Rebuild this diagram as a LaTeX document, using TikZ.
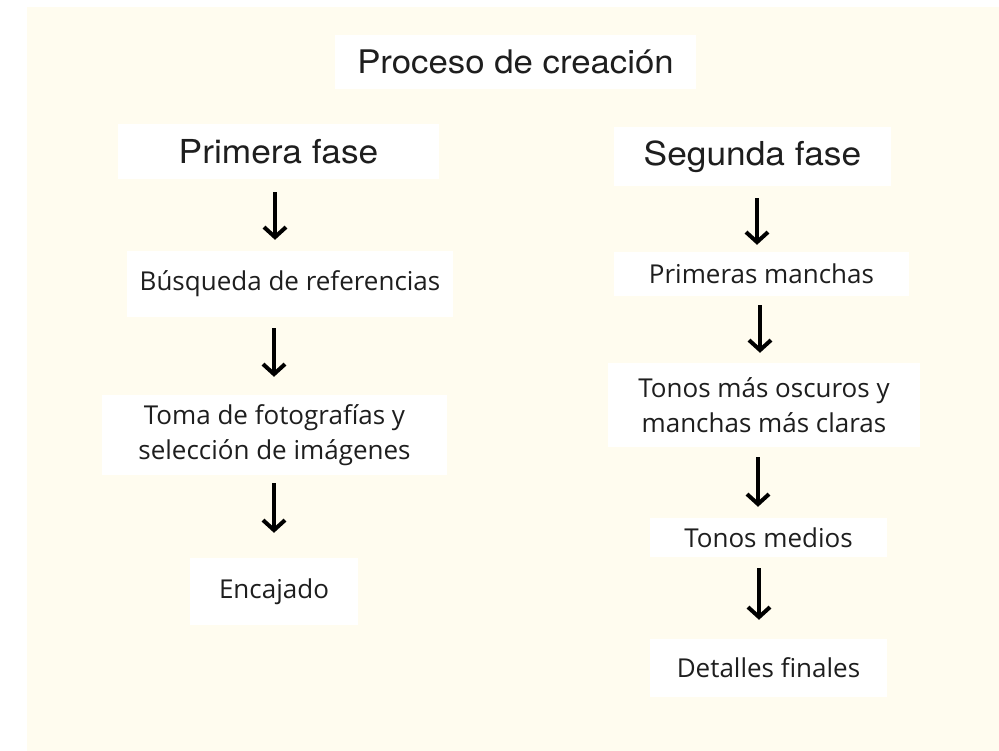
\documentclass[tikz,border=0pt]{standalone}
\usepackage{fontspec}
\setmainfont{Open Sans}
\newfontfamily\headfont[FakeStretch=1.07]{TeX Gyre Heros}
\usetikzlibrary{arrows.meta}
\definecolor{cream}{HTML}{FFFCEF}
\definecolor{ink}{HTML}{1E1E1E}
\begin{document}
\begin{tikzpicture}[x=1pt,y=-1pt,
  box/.style={fill=white, draw=none, inner sep=0pt, text=ink, align=center},
  headbox/.style={box, font=\headfont\fontsize{33}{38}\selectfont},
  bodybox/.style={box, font=\fontsize{26}{35}\selectfont},
  arr/.style={line width=4pt, draw=black, -{Straight Barb[length=10pt,width=22pt]}}
]
\useasboundingbox (0,0) rectangle (999,751);
\fill[white] (0,0) rectangle (999,751);
\fill[cream] (27,7) rectangle (999,751);

\node[headbox, minimum width=361pt, minimum height=54pt, font=\headfont\fontsize{32.5}{38}\selectfont] (title) at (515.5,62) {Proceso de creación};

\node[headbox, minimum width=321pt, minimum height=55pt] (prim) at (278.5,151.5) {Primera fase};
\node[headbox, minimum width=277pt, minimum height=59pt] (seg) at (752.5,156.5) {Segunda fase};

\node[bodybox, minimum width=326pt, minimum height=66pt] (busq) at (290,284) {Búsqueda de referencias};
\node[bodybox, minimum width=345pt, minimum height=80pt] (toma) at (274.5,435) {Toma de fotografías y\\selección de imágenes};
\node[bodybox, minimum width=168pt, minimum height=67pt] (enc) at (274,591.5) {Encajado};

\node[bodybox, minimum width=295pt, minimum height=44pt] (pm) at (761.5,274) {Primeras manchas};
\node[bodybox, minimum width=312pt, minimum height=84pt] (tonos) at (764,405) {Tonos más oscuros y\\manchas más claras};
\node[bodybox, minimum width=237pt, minimum height=39pt] (medios) at (768.5,537.5) {Tonos medios};
\node[bodybox, minimum width=237pt, minimum height=58pt] (det) at (768.5,668) {Detalles finales};

\draw[arr, shorten <=13pt, shorten >=11pt] (275,0 |- prim.south) -- (275,0 |- busq.north);
\draw[arr, shorten <=11pt, shorten >=18pt] (274,0 |- busq.south) -- (274,0 |- toma.north);
\draw[arr, shorten <=8pt, shorten >=25pt] (274,0 |- toma.south) -- (274,0 |- enc.north);

\draw[arr, shorten <=12pt, shorten >=7pt] (757,0 |- seg.south) -- (757,0 |- pm.north);
\draw[arr, shorten <=9pt, shorten >=10pt] (760,0 |- pm.south) -- (760,0 |- tonos.north);
\draw[arr, shorten <=10pt, shorten >=11pt] (758,0 |- tonos.south) -- (758,0 |- medios.north);
\draw[arr, shorten <=11pt, shorten >=19pt] (759,0 |- medios.south) -- (759,0 |- det.north);
\end{tikzpicture}
\end{document}
